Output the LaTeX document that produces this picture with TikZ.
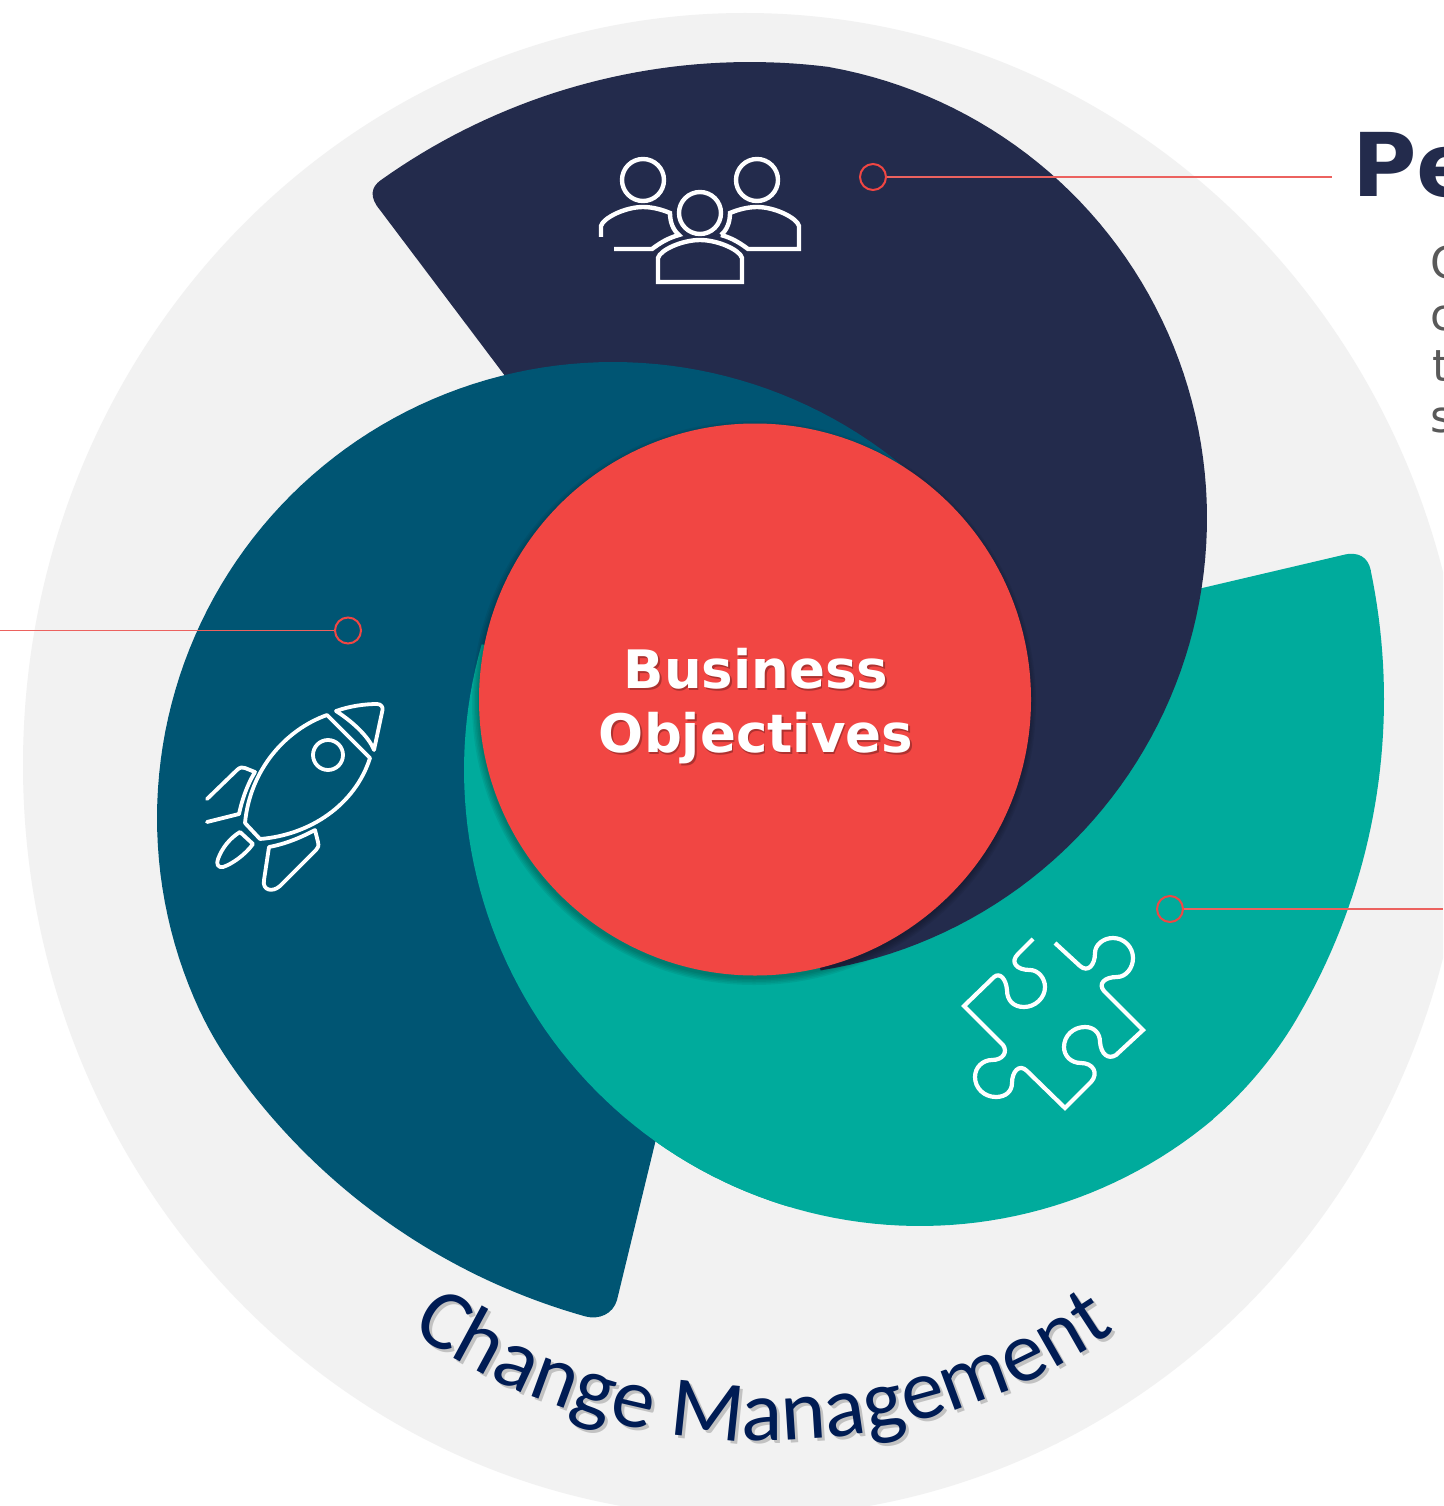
\documentclass[tikz,border=0pt]{standalone}
\usepackage{fontspec}
\setmainfont{DejaVu Sans}
\newfontfamily\carlitofont{Carlito}
\usetikzlibrary{decorations.text}
\definecolor{greyx}{HTML}{F2F2F2}
\definecolor{navyx}{HTML}{232B4C}
\definecolor{bluex}{HTML}{005573}
\definecolor{tealx}{HTML}{00AB9C}
\definecolor{redx}{HTML}{F14643}
\definecolor{leaderx}{HTML}{EC625F}
\definecolor{wordx}{HTML}{001C54}
\definecolor{bodyx}{HTML}{595959}
\tikzset{
  ring/.style={circle,draw=redx,line width=2pt,minimum size=26pt,inner sep=0pt},
  leader/.style={draw=leaderx,line width=1.2pt},
  icon/.style={draw=white,line width=4.4pt,line join=miter,fill=none},
  iconthin/.style={draw=white,line width=3.8pt,line join=round,line cap=round,fill=none},
  headline/.style={anchor=base west,inner sep=0pt,text=navyx,font=\fontsize{88}{88}\selectfont\bfseries},
  bodyline/.style={anchor=base west,inner sep=0pt,text=bodyx,font=\fontsize{44}{44}\selectfont},
  biz/.style={anchor=base,inner sep=0pt,text=white,font=\fontsize{53}{53}\selectfont\bfseries},
  bizshade/.style={anchor=base,inner sep=0pt,text=black!28!redx,font=\fontsize{53}{53}\selectfont\bfseries}
}
\def\navypath{(381,180) .. controls (371,187) and (369,197) .. (380,210) -- (530,409) -- (720,600) -- plot[domain=81:-79.8,samples=90] ({749+458*cos(\x)},{518+458*sin(\x)}) -- plot[domain=-82.8:-125.5,samples=40] ({750+636*cos(\x)},{698+636*sin(\x)}) -- cycle}
\def\tealpath{(1343,555) .. controls (1358,551) and (1368,557) .. (1370.8,570.4) -- plot[domain=-11.8:30,samples=40] ({755+629*cos(\x)},{699+629*sin(\x)}) .. controls (1278,1052) and (1247,1090) .. (1213,1119) -- plot[domain=50:196,samples=90] ({920+456*cos(\x)},{770+456*sin(\x)}) -- (800,700) -- (1100,612) -- cycle}
\def\bluepath{(680,1040) -- (617,1300) .. controls (613,1314) and (599,1320) .. (585.3,1316.4) -- plot[domain=105.7:142,samples=40] ({760+645.5*cos(\x)},{695+645.5*sin(\x)}) .. controls (231,1066) and (214,1041) .. (200,1011) -- plot[domain=155:315,samples=90] ({613+456*cos(\x)},{818+456*sin(\x)}) -- (700,800) -- cycle}
\begin{document}
\begin{tikzpicture}[x=1pt,y=-1pt]
\clip (0,0) rectangle (1443,1506);
\fill[white] (0,0) rectangle (1443,1506);
% outer disc
\fill[greyx] (745,765) ellipse [x radius=722,y radius=752];
% the three interlocking blades
\fill[tealx] \tealpath;
\fill[navyx] \navypath;
\fill[bluex] \bluepath;
\begin{scope}
  \clip (0,0) rectangle (790,1506);
  \fill[tealx] \tealpath;
\end{scope}
% shadow and centre disc
\foreach \s in {7.5,6,4.5,3,1.5}{
  \fill[black,opacity=0.06] (754,703) circle [radius=276+\s-1.5];
}
\node[circle,fill=redx,minimum size=552pt,inner sep=0pt] (core) at (755,699.5) {};
\node[bizshade] (biz1s) at (757.5,690) {Business};
\node[bizshade] (biz2s) at (757.5,754) {Objectives};
\node[biz] (biz1) at (756,688.5) {Business};
\node[biz] (biz2) at (756,752.5) {Objectives};
% leaders
\node[ring] (r1) at (873,177) {};
\node[ring] (r2) at (348,630.5) {};
\node[ring] (r3) at (1170,909) {};
\coordinate (e1) at (1332,177);
\coordinate (e2) at (0,630.5);
\coordinate (e3) at (1443,909);
\draw[leader] (r1) -- (e1);
\draw[leader] (r2) -- (e2);
\draw[leader] (r3) -- (e3);
% cropped texts
\node[headline] (t0) at (1352,197) {Pe};
\node[bodyline] (t1) at (1430.5,278) {C};
\node[bodyline] (t2) at (1430.5,330) {c};
\node[bodyline] (t3) at (1432.5,381) {t};
\node[bodyline] (t4) at (1430.5,432) {s};
% people icon
\begin{scope}[icon]
  \draw (643,180) circle [radius=21];
  \draw (757,180) circle [radius=21];
  \draw (700,213) circle [radius=21];
  \draw (601,237) -- (601,226) .. controls (603,218) and (625,207) .. (643,207) .. controls (653,207) and (663,210) .. (670,213) .. controls (670,222) and (673,230) .. (679,235) .. controls (668,238) and (660,243) .. (652,249) -- (614,249);
  \draw (721,235) .. controls (727,230) and (730,222) .. (730,213) .. controls (737,210) and (747,207) .. (757,207) .. controls (775,207) and (797,218) .. (799,226) -- (799,249) -- (748,249) .. controls (740,243) and (732,238) .. (721,235);
  \draw (658,282) -- (658,258) .. controls (660,250) and (682,240) .. (700,240) .. controls (718,240) and (740,250) .. (742,258) -- (742,282) -- cycle;
\end{scope}
% rocket icon
\begin{scope}[iconthin]
  \draw (327,715) .. controls (285,730) and (250,770) .. (245,823) -- (260,839) .. controls (310,835) and (355,805) .. (370,758) -- cycle;
  \draw (328,755) circle [radius=15];
  \draw (336,711) .. controls (350,706) and (365,704) .. (377,704) .. controls (381,704) and (383,707) .. (382.5,710) -- (374,750) .. controls (368,735) and (350,720) .. (336,711) -- cycle;
  \draw (207,799) -- (237,770) .. controls (240,767) and (243,767) .. (245,768) -- (255,772) .. controls (247,785) and (242,800) .. (239,814) -- (207,822);
  \draw (315,830) -- (318,842) .. controls (319,846) and (318,848) .. (316,850) -- (280,886) .. controls (272,893) and (262,890) .. (264,880) -- (269,847) .. controls (285,844) and (300,838) .. (315,830) -- cycle;
  \draw (240,832) -- (253,844) .. controls (245,855) and (232,864) .. (223,867) .. controls (218,868) and (216,864) .. (218,859) .. controls (222,848) and (230,838) .. (240,832) -- cycle;
\end{scope}
% puzzle icon
\draw[iconthin,line width=4.2pt,line cap=butt,line join=miter] (1033,939) -- (1018,954) .. controls (1010,962) and (1016,970) .. (1030,970)
 .. controls (1038,970) and (1045,978) .. (1045,987)
 .. controls (1045,998) and (1035,1007) .. (1024,1007)
 .. controls (1013,1007) and (1007,1000) .. (1007,990)
 .. controls (1006,979) and (1000,972) .. (994,977) -- (964,1006) -- (1003,1045)
 .. controls (1008,1052) and (1003,1060) .. (992,1060)
 .. controls (983,1060) and (975,1067) .. (975,1077)
 .. controls (975,1088) and (984,1097) .. (996,1097)
 .. controls (1006,1097) and (1012,1091) .. (1012,1083)
 .. controls (1012,1072) and (1019,1063) .. (1027,1071) -- (1065,1108) -- (1091,1082)
 .. controls (1099,1073) and (1093,1063) .. (1081,1063)
 .. controls (1071,1063) and (1064,1056) .. (1064,1047)
 .. controls (1064,1036) and (1073,1027) .. (1085,1027)
 .. controls (1094,1027) and (1100,1033) .. (1100,1042)
 .. controls (1101,1054) and (1108,1060) .. (1116,1055) -- (1143,1030) -- (1104,991)
 .. controls (1098,984) and (1104,977) .. (1117,977)
 .. controls (1126,977) and (1133,968) .. (1133,958)
 .. controls (1133,947) and (1124,938) .. (1113,938)
 .. controls (1103,938) and (1095,945) .. (1095,953)
 .. controls (1095,965) and (1088,973) .. (1080,966) -- (1055,943);
% curved title with soft shadow
\path[decorate,decoration={text along path,text align={center},
  text={|\carlitofont\fontsize{86}{86}\selectfont\color{black!20!greyx}|Change Management}}]
  plot[domain=125:55,samples=60] ({766+620*cos(\x)},{824+620*sin(\x)});
\path[decorate,decoration={text along path,text align={center},
  text={|\carlitofont\fontsize{86}{86}\selectfont\color{wordx}|Change Management}}]
  plot[domain=125:55,samples=60] ({763+620*cos(\x)},{821+620*sin(\x)});
\end{tikzpicture}
\end{document}
